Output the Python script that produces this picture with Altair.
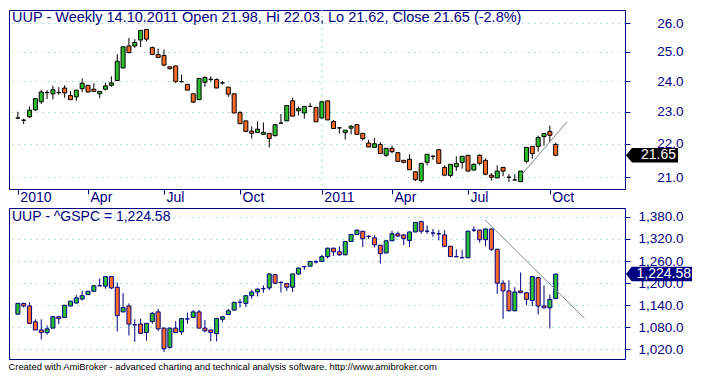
import altair as alt
import pandas as pd

# ------------------------------------------------------------------ data
weeks = list(range(93))

uup_open = [22.80, 22.73, 22.84, 23.06, 23.32, 23.62, 23.58, 23.62, 23.77, 23.52,
            23.48, 23.75, 23.86, 23.73, 23.58, 23.73, 23.86, 24.02, 24.44, 25.20,
            25.20, 25.41, 25.78, 25.14, 24.90, 24.87, 24.48, 24.51, 23.98, 23.89,
            23.58, 23.39, 23.96, 24.06, 24.05, 23.94, 23.80, 23.58, 22.97, 22.71,
            22.39, 22.35, 22.29, 22.32, 22.25, 22.64, 22.71, 23.35, 23.03, 22.96,
            23.17, 23.14, 22.80, 23.35, 22.69, 22.49, 22.34, 22.48, 22.59, 22.32,
            22.02, 21.89, 21.98, 21.65, 21.86, 21.73, 21.50, 21.53, 21.16, 20.90,
            21.44, 21.62, 21.82, 21.29, 21.05, 21.31, 21.44, 21.65, 21.21, 21.65,
            21.50, 21.06, 20.98, 21.29, 21.00, 20.92, 20.87, 21.47, 21.92, 21.92,
            22.22, 22.38, 21.98]
uup_high = [23.00, 22.78, 23.17, 23.45, 23.71, 23.70, 23.84, 23.80, 23.86, 23.67,
            23.71, 24.09, 23.87, 23.93, 23.66, 23.94, 24.16, 24.91, 25.18, 25.48,
            25.44, 25.76, 25.79, 25.18, 25.11, 25.08, 24.48, 24.51, 24.22, 23.89,
            23.58, 24.09, 24.16, 24.16, 24.09, 24.00, 23.80, 23.58, 23.02, 22.71,
            22.54, 22.69, 22.66, 22.32, 22.60, 22.93, 23.20, 23.45, 23.17, 23.17,
            23.28, 23.14, 23.32, 23.35, 22.74, 22.49, 22.42, 22.58, 22.59, 22.32,
            22.12, 22.18, 22.05, 21.86, 21.94, 21.73, 21.50, 21.68, 21.16, 21.41,
            21.68, 21.65, 21.82, 21.35, 21.38, 21.62, 21.62, 21.65, 21.41, 21.68,
            21.56, 21.12, 21.35, 21.29, 21.09, 21.09, 21.18, 21.89, 21.92, 22.25,
            22.31, 22.56, 22.03]
uup_low = [22.78, 22.61, 22.80, 23.03, 23.25, 23.41, 23.40, 23.55, 23.45, 23.39,
           23.35, 23.63, 23.62, 23.66, 23.44, 23.69, 23.81, 24.01, 24.43, 24.94,
           25.13, 25.16, 25.35, 24.90, 24.80, 24.50, 24.39, 23.93, 23.98, 23.70,
           23.28, 23.39, 23.81, 23.98, 23.77, 23.89, 23.48, 22.96, 22.62, 22.38,
           22.16, 22.35, 22.29, 21.89, 22.22, 22.64, 22.71, 22.86, 22.88, 22.78,
           23.17, 22.68, 22.80, 22.74, 22.47, 22.31, 22.13, 22.29, 22.29, 22.10,
           21.90, 21.89, 21.70, 21.60, 21.71, 21.47, 21.41, 21.22, 20.89, 20.85,
           21.35, 21.51, 21.41, 21.06, 21.00, 21.19, 21.25, 21.18, 21.21, 21.35,
           21.06, 20.90, 20.98, 21.03, 20.87, 20.92, 20.87, 21.41, 21.55, 21.76,
           21.94, 22.05, 21.62]
uup_close = [22.80, 22.73, 23.05, 23.42, 23.64, 23.62, 23.71, 23.62, 23.61, 23.39,
             23.70, 23.93, 23.64, 23.66, 23.66, 23.84, 23.94, 24.67, 25.17, 24.97,
             25.32, 25.75, 25.44, 24.90, 24.80, 24.54, 24.42, 23.99, 23.98, 23.70,
             23.31, 24.09, 24.12, 24.06, 23.77, 23.94, 23.57, 22.96, 22.62, 22.38,
             22.32, 22.45, 22.35, 22.16, 22.59, 22.64, 23.20, 22.86, 23.10, 23.17,
             23.17, 22.68, 23.32, 22.74, 22.47, 22.49, 22.42, 22.54, 22.29, 22.16,
             21.90, 22.00, 21.70, 21.86, 21.76, 21.47, 21.44, 21.22, 20.93, 21.41,
             21.68, 21.62, 21.41, 21.06, 21.38, 21.41, 21.62, 21.18, 21.38, 21.41,
             21.09, 21.00, 21.18, 21.18, 21.00, 20.92, 21.18, 21.89, 21.70, 22.19,
             22.31, 22.26, 21.65]

spx_open = [1116, 1145, 1138, 1095, 1073, 1066, 1078, 1109, 1107, 1138,
            1146, 1157, 1169, 1178, 1193, 1192, 1218, 1189, 1122, 1138,
            1087, 1089, 1066, 1096, 1122, 1078, 1026, 1078, 1068, 1103,
            1107, 1122, 1078, 1073, 1063, 1102, 1115, 1127, 1148, 1145,
            1166, 1176, 1185, 1187, 1223, 1202, 1199, 1189, 1225, 1245,
            1246, 1258, 1259, 1272, 1295, 1285, 1277, 1313, 1332, 1341,
            1327, 1323, 1303, 1282, 1315, 1334, 1331, 1316, 1339, 1367,
            1341, 1336, 1334, 1331, 1300, 1272, 1269, 1269, 1344, 1344,
            1318, 1347, 1292, 1200, 1179, 1125, 1179, 1174, 1153, 1215,
            1138, 1133, 1158]
spx_high = [1147, 1147, 1148, 1102, 1102, 1085, 1110, 1110, 1141, 1152,
            1168, 1179, 1179, 1194, 1213, 1219, 1219, 1202, 1173, 1145,
            1102, 1104, 1092, 1122, 1130, 1079, 1079, 1097, 1105, 1120,
            1127, 1127, 1100, 1074, 1105, 1110, 1130, 1149, 1156, 1167,
            1182, 1185, 1194, 1226, 1225, 1205, 1200, 1226, 1242, 1246,
            1260, 1263, 1277, 1296, 1296, 1300, 1314, 1333, 1345, 1342,
            1330, 1330, 1304, 1316, 1342, 1340, 1332, 1340, 1366, 1370,
            1357, 1347, 1344, 1344, 1301, 1292, 1290, 1342, 1354, 1345,
            1348, 1348, 1293, 1208, 1208, 1189, 1229, 1175, 1219, 1217,
            1194, 1169, 1226]
spx_low = [1114, 1134, 1091, 1073, 1047, 1060, 1078, 1089, 1106, 1137,
           1145, 1153, 1168, 1177, 1192, 1185, 1184, 1069, 1121, 1058,
           1041, 1062, 1044, 1090, 1070, 1013, 1022, 1065, 1060, 1090,
           1106, 1078, 1066, 1042, 1042, 1094, 1114, 1125, 1134, 1135,
           1158, 1164, 1174, 1181, 1197, 1175, 1179, 1176, 1222, 1236,
           1245, 1253, 1258, 1267, 1274, 1274, 1276, 1312, 1331, 1298,
           1320, 1297, 1253, 1281, 1314, 1325, 1303, 1298, 1338, 1334,
           1334, 1326, 1316, 1300, 1271, 1272, 1269, 1268, 1339, 1310,
           1300, 1287, 1171, 1103, 1124, 1124, 1173, 1140, 1138, 1115,
           1132, 1077, 1157]
spx_close = [1145, 1138, 1091, 1073, 1066, 1076, 1109, 1104, 1140, 1151,
             1160, 1166, 1178, 1193, 1193, 1218, 1187, 1112, 1134, 1089,
             1087, 1064, 1091, 1118, 1076, 1022, 1078, 1066, 1104, 1103,
             1122, 1078, 1071, 1066, 1104, 1109, 1125, 1148, 1148, 1166,
             1176, 1184, 1185, 1225, 1200, 1202, 1189, 1225, 1241, 1245,
             1259, 1258, 1272, 1295, 1285, 1277, 1313, 1332, 1344, 1321,
             1327, 1304, 1280, 1315, 1334, 1328, 1321, 1339, 1365, 1341,
             1341, 1336, 1334, 1300, 1272, 1272, 1269, 1341, 1344, 1318,
             1347, 1292, 1200, 1179, 1125, 1176, 1174, 1156, 1218, 1138,
             1133, 1156, 1224.58]

xtick_idx = [0, 12, 25, 38, 52, 64, 77, 91]
xtick_lab = ["2010", "Apr", "Jul", "Oct", "2011", "Apr", "Jul", "Oct"]
year_break = [52]

uup_ticks = [21, 22, 23, 24, 25, 26]
spx_ticks = [1020, 1080, 1140, 1200, 1260, 1320, 1380]

uup_trend_x = [86.2, 94.0]
uup_trend_y = [21.08, 22.69]
spx_trend_x = [79.9, 96.9]
spx_trend_y = [1372, 1105]

uup_last = [21.65]
uup_last_lab = ["21.65"]
spx_last = [1224.58]
spx_last_lab = ["1,224.58"]

top_title = "UUP - Weekly 14.10.2011 Open 21.98, Hi 22.03, Lo 21.62, Close 21.65 (-2.8%)"
bot_title = "UUP - ^GSPC = 1,224.58"
footer = ("Created with AmiBroker - advanced charting and technical analysis "
          "software. http://www.amibroker.com")

# ------------------------------------------------------------------ style
NAVY = "#000080"
GREEN = "#2cbc2c"
ORANGE = "#fb6a26"
GRID = "#99d6d6"
TREND = "#7d8d99"
FONT = "Liberation Sans"
W = 616
H1 = 179
H2 = 151


def ohlc(o, h, l, c):
    rows = []
    for k, (a, b, d, e) in enumerate(zip(o, h, l, c)):
        rows.append({"i": weeks[k], "open": a, "high": b, "low": d, "close": e,
                     "lo": min(a, e), "hi": max(a, e),
                     "dir": "up" if e > a else ("down" if e < a else "flat")})
    return pd.DataFrame(rows)


label_expr = " : ".join(
    f"datum.value == {v} ? '{t}'" for v, t in zip(xtick_idx, xtick_lab)) + " : ''"

xscale = alt.Scale(domain=[-0.66, 103.0], nice=False, zero=False)


def panel(df, yscale, yax, xax, edge, trend, last, box_path, box_size,
          box_color, box_cx, text_x, title, title_size, height, vbreak):
    def X():
        return alt.X("i:Q", scale=xscale, axis=xax, title=None)

    def Y(field):
        return alt.Y(field, scale=yscale, axis=yax, title=None)

    base = alt.Chart(df)
    layers = []
    if vbreak:
        layers.append(
            alt.Chart(pd.DataFrame({"i": year_break})).mark_rule(
                color=GRID, strokeDash=[1.5, 4.5], strokeWidth=1.2
            ).encode(x=X())
        )
    wick = base.mark_rule(color=edge, strokeWidth=1).encode(
        x=X(), y=Y("low:Q"), y2="high:Q",
    )
    body = base.mark_bar(size=4, stroke=edge, opacity=1).encode(
        x=X(), y=Y("lo:Q"), y2="hi:Q",
        color=alt.Color("dir:N", scale=alt.Scale(domain=["up", "down", "flat"],
                                                 range=[GREEN, ORANGE, edge]),
                        legend=None),
        strokeWidth=alt.StrokeWidth("dir:N",
                                    scale=alt.Scale(domain=["up", "down", "flat"],
                                                    range=[1, 1, 2]),
                                    legend=None),
    )
    tr = alt.Chart(trend).mark_line(color=TREND, strokeWidth=1).encode(
        x=X(), y=Y("v:Q"),
    )
    box = alt.Chart(last).mark_point(shape=box_path, size=box_size, filled=True,
                                     color=box_color, opacity=1, strokeWidth=0).encode(
        x=alt.value(box_cx), y=Y("v:Q"),
    )
    txt = alt.Chart(last).mark_text(color="white", font=FONT, fontSize=14,
                                    align="right", baseline="middle").encode(
        x=alt.value(text_x), y=Y("v:Q"), text="lab:N",
    )
    layers += [wick, body, tr, box, txt]
    return alt.layer(*layers).properties(
        width=W, height=height,
        title=alt.TitleParams(text=title, anchor="start", offset=-16, dx=3,
                              font=FONT, fontSize=title_size, fontWeight="normal",
                              color=NAVY),
    )


def yaxis(values, fmt):
    return alt.Axis(orient="right", values=values, format=fmt, grid=True,
                    gridColor=GRID, gridDash=[1.5, 4.5], gridWidth=1.2,
                    domain=False, ticks=True, tickSize=5, tickColor=NAVY,
                    labelColor=NAVY, labelFont=FONT, labelFontSize=13.5,
                    labelAlign="right", labelBaseline="middle", labelPadding=53,
                    labelOverlap=False, labelFlush=False)


xaxis_top = alt.Axis(orient="bottom", values=xtick_idx, labelExpr=label_expr,
                     grid=False, domain=False, ticks=True, tickSize=5,
                     tickColor=NAVY, labelColor=NAVY, labelFont=FONT,
                     labelFontSize=14, labelAlign="left", labelBaseline="top",
                     labelPadding=-4, labelOffset=2, labelFlush=False,
                     labelOverlap=False)

top = panel(
    ohlc(uup_open, uup_high, uup_low, uup_close),
    alt.Scale(type="log", domain=[20.66, 26.49], nice=False, zero=False),
    yaxis(uup_ticks, ".1f"), xaxis_top, "black",
    pd.DataFrame({"i": uup_trend_x, "v": uup_trend_y}),
    pd.DataFrame({"v": uup_last, "lab": uup_last_lab}),
    "M-1,0L-0.77,-0.28L1,-0.28L1,0.28L-0.77,0.28Z", 52 * 52, "black",
    W + 27, W + 51, top_title, 14.5, H1, True,
)

bottom = panel(
    ohlc(spx_open, spx_high, spx_low, spx_close),
    alt.Scale(type="linear", domain=[994.2, 1404], nice=False, zero=False),
    yaxis(spx_ticks, ",.1f"), None, NAVY,
    pd.DataFrame({"i": spx_trend_x, "v": spx_trend_y}),
    pd.DataFrame({"v": spx_last, "lab": spx_last_lab}),
    "M-1,0L-0.83,-0.22L1,-0.22L1,0.22L-0.83,0.22Z", 66 * 66, NAVY,
    W + 34, W + 66, bot_title, 14, H2, False,
)

chart = alt.vconcat(top, bottom, spacing=2).resolve_scale(
    x="independent", y="independent"
).properties(
    title=alt.TitleParams(text=footer, orient="bottom", anchor="start", offset=3,
                          font=FONT, fontSize=9.4, fontWeight="normal",
                          color="black"),
    padding=0,
    background="white",
).configure_view(stroke=NAVY, strokeWidth=1)

chart.save("out.html", embed_options={"renderer": "svg", "actions": False})
